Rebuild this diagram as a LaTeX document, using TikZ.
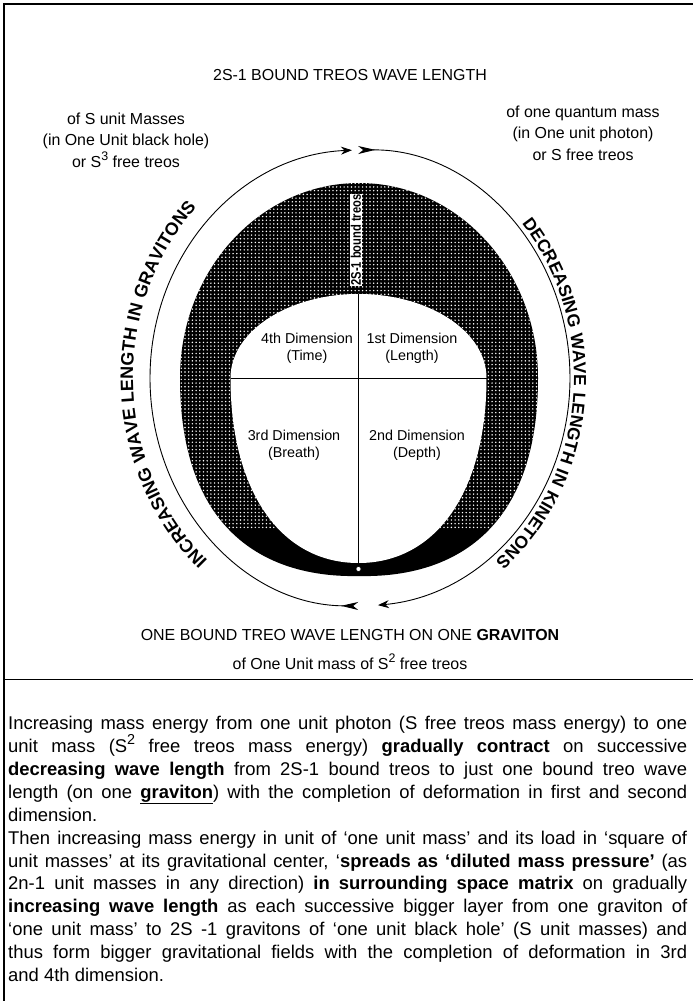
\documentclass[tikz,border=0pt]{standalone}
\usepackage{fontspec}
\setmainfont{Liberation Sans}
\newfontfamily\arcfont[LetterSpace=6]{Liberation Sans}
\usetikzlibrary{arrows.meta,decorations.text,patterns}
\pgfdeclarepatternformonly{halftone}{\pgfqpoint{-1bp}{-1bp}}{\pgfqpoint{1bp}{1bp}}{\pgfqpoint{3.7bp}{3.7bp}}{\pgfpathcircle{\pgfpointorigin}{0.8bp}\pgfusepath{fill}}
\newcommand{\supnum}[1]{\raisebox{0.42em}{\scalebox{0.78}{#1}}}
\begin{document}
\begin{tikzpicture}[x=1bp,y=1bp,
  lbl/.style={font=\fontsize{16}{21.5}\selectfont, align=center, inner sep=0},
  dimlbl/.style={font=\fontsize{14.4}{17}\selectfont, align=center, inner sep=0},
  ring/.style={line width=0.9bp},
  frame/.style={line width=1.6bp}]
\useasboundingbox (0,0) rectangle (693,-1001);
\coordinate (C) at (360,-378);
% frame
\draw[frame] (4,-1001) -- (4,-4) -- (693,-4);
\draw[line width=1bp] (4,-679) -- (693,-679);
% dark band
\fill[black] (180,-378) arc[start angle=180,end angle=0,x radius=179,y radius=195]
  .. controls (538,-535) and (448,-578) .. (359,-576)
  .. controls (270,-578) and (180,-535) .. (180,-378) -- cycle;
\begin{scope}
  \clip (180,-378) arc[start angle=180,end angle=0,x radius=179,y radius=195]
  .. controls (538,-535) and (448,-578) .. (359,-576)
  .. controls (270,-578) and (180,-535) .. (180,-378) -- cycle;
  \clip (0,-150) rectangle (693,-530);
  \fill[pattern=halftone, pattern color=white] (0,-150) rectangle (693,-530);
\end{scope}
% inner white
\fill[white] (230.5,-378) arc[start angle=180,end angle=0,x radius=128,y radius=84]
  .. controls (486.5,-490) and (437,-563) .. (358.5,-563)
  .. controls (280,-563) and (230.5,-490) .. (230.5,-378) -- cycle;
\draw[line width=0.8bp] (358.5,-294) -- (358.5,-567);
\draw[line width=0.8bp] (230.5,-378) -- (486.5,-378);
\draw[fill=white, line width=0.5bp] (358.5,-569) circle[radius=2.5];
\node[rotate=90, fill=white, inner sep=0.8bp, font=\fontsize{14}{14}\selectfont\bfseries] (sb) at (356,-240) {\scalebox{0.8}[1]{2S-1 bound treos}};
% quadrant labels
\node[dimlbl] (q4) at (307,-348) {4th Dimension\\(Time)};
\node[dimlbl] (q1) at (412,-348) {1st Dimension\\(Length)};
\node[dimlbl] (q3) at (294,-445) {3rd Dimension\\(Breath)};
\node[dimlbl] (q2) at (417,-445) {2nd Dimension\\(Depth)};
% outer ring arrows
\draw[ring, {Stealth[length=17bp,width=8bp,inset=5bp,reversed]}-{Stealth[length=11bp,width=8bp]}]
  ([shift={(C)}]269.5:210 and 228) arc[start angle=269.5, end angle=92.2, x radius=210, y radius=228];
\draw[ring, {Stealth[length=17bp,width=8bp,inset=5bp,reversed]}-{Stealth[length=11bp,width=8bp]}]
  ([shift={(C)}]90.5:210 and 228) arc[start angle=90.5, end angle=-85.1, x radius=210, y radius=228];
% curved texts
\path[decorate, decoration={text along path, text align=center,
  text={|\arcfont\fontsize{18}{18}\selectfont\bfseries|INCREASING WAVE LENGTH IN GRAVITONS}}]
  ([shift={(C)}]236:227 and 246) arc[start angle=236, end angle=128, x radius=227, y radius=246];
\path[decorate, decoration={text along path, text align=center,
  text={|\arcfont\fontsize{17.5}{17.5}\selectfont\bfseries|DECREASING WAVE LENGTH IN KINETONS}}]
  ([shift={(C)}]48:214 and 236) arc[start angle=48, end angle=-58, x radius=214, y radius=236];
% labels
\node[lbl] (title) at (350,-75) {2S-1 BOUND TREOS WAVE LENGTH};
\node[lbl] (left) at (126,-140) {of S unit Masses\\(in One Unit black hole)\\or S\supnum{3} free treos};
\node[lbl] (right) at (583,-133) {of one quantum mass\\(in One unit photon)\\or S free treos};
\node[lbl] (bot1) at (350,-635) {ONE BOUND TREO WAVE LENGTH ON ONE \textbf{GRAVITON}};
\node[lbl] (bot2) at (350,-662) {of One Unit mass of S\supnum{2} free treos};
% body
\node[anchor=north west, text width=679bp, align=justify, inner sep=0,
  font=\fontsize{18.5}{23}\selectfont] (body) at (8,-716) {\parindent=0pt
Increasing mass energy from one unit photon (S free treos mass energy) to one\linebreak
unit mass (S\supnum{2} free treos mass energy) \textbf{gradually contract} on successive\linebreak
\textbf{decreasing wave length} from 2S-1 bound treos to just one bound treo wave\linebreak
length (on one \underline{\textbf{graviton}}) with the completion of deformation in first and second\linebreak
dimension.\par
Then increasing mass energy in unit of ‘one unit mass’ and its load in ‘square of\linebreak
unit masses’ at its gravitational center, ‘\textbf{spreads as ‘diluted mass pressure’} (as\linebreak
2n-1 unit masses in any direction) \textbf{in surrounding space matrix} on gradually\linebreak
\textbf{increasing wave length} as each successive bigger layer from one graviton of\linebreak
‘one unit mass’ to 2S -1 gravitons of ‘one unit black hole’ (S unit masses) and\linebreak
thus form bigger gravitational fields with the completion of deformation in 3rd\linebreak
and 4th dimension.};
\end{tikzpicture}
\end{document}
